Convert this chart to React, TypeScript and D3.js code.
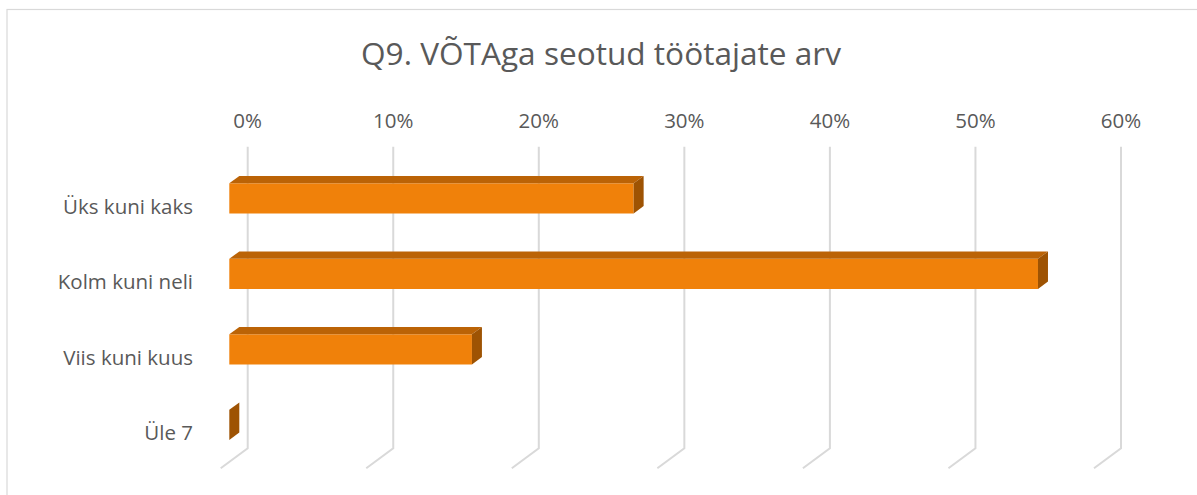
import React from 'react';
import * as d3 from 'd3';

const categories = ['Üks kuni kaks', 'Kolm kuni neli', 'Viis kuni kuus', 'Üle 7'];
const shares = [0.2778, 0.5556, 0.1667, 0];
const ticks = [0, 0.1, 0.2, 0.3, 0.4, 0.5, 0.6];
const title = 'Q9. VÕTAga seotud töötajate arv';

const W = 1197;
const H = 495;
const font = "'Open Sans', sans-serif";
const textColor = '#595959';
const gridColor = '#d9d9d9';

// depth offsets of the oblique 3D view
const floorDx = -27;
const floorDy = 20;
const barDx = 10;
const barDy = -7.4;

const App = () => {
  // back wall scale (gridlines, tick labels)
  const xBack = d3.scaleLinear().domain([0, 0.6]).range([247.7, 1121]);
  // front plane of bars
  const xFront = d3.scaleLinear().domain([0, 0.6]).range([229.3, 1102.6]);
  const y = d3
    .scaleBand()
    .domain(categories)
    .range([160.65, 462.65])
    .paddingInner(0.6)
    .paddingOuter(0.3);
  const wallTop = 146.7;
  const wallBottom = 448.3;
  const fmt = d3.format('.0%');

  return (
    <svg width={W} height={H} style={{ position: 'absolute', left: 0, top: 0 }}>
      <rect x={0} y={0} width={W} height={H} fill="#fff" />
      <rect x={7} y={9.5} width={W} height={H} fill="#fff" stroke={gridColor} strokeWidth={1.2} />
      <text
        x={601}
        y={65}
        textAnchor="middle"
        fontFamily={font}
        fontSize={31.6}
        fill={textColor}
      >
        {title}
      </text>
      {ticks.map((t) => (
        <g key={t}>
          <path
            d={`M${xBack(t)},${wallTop}V${wallBottom}L${xBack(t) + floorDx},${wallBottom + floorDy}`}
            fill="none"
            stroke={gridColor}
            strokeWidth={2}
          />
          <text
            x={xBack(t)}
            y={128}
            textAnchor="middle"
            fontFamily={font}
            fontSize={20.5}
            fill={textColor}
          >
            {fmt(t)}
          </text>
        </g>
      ))}
      {categories.map((c, i) => {
        const x0 = xFront(0);
        const x1 = xFront(shares[i]);
        const y0 = y(c) as number;
        const y1 = y0 + y.bandwidth();
        return (
          <g key={c}>
            {x1 > x0 && (
              <>
                <rect x={x0} y={y0} width={x1 - x0} height={y1 - y0} fill="#f0810a" />
                <path
                  d={`M${x0},${y0}L${x0 + barDx},${y0 + barDy}L${x1 + barDx},${y0 + barDy}L${x1},${y0}Z`}
                  fill="#bb6306"
                />
              </>
            )}
            <path
              d={`M${x1},${y0}L${x1 + barDx},${y0 + barDy}L${x1 + barDx},${y1 + barDy}L${x1},${y1}Z`}
              fill="#9e5303"
            />
            <text
              x={193}
              y={y1}
              textAnchor="end"
              fontFamily={font}
              fontSize={20.5}
              fill={textColor}
            >
              {c}
            </text>
          </g>
        );
      })}
    </svg>
  );
};

export default App;
